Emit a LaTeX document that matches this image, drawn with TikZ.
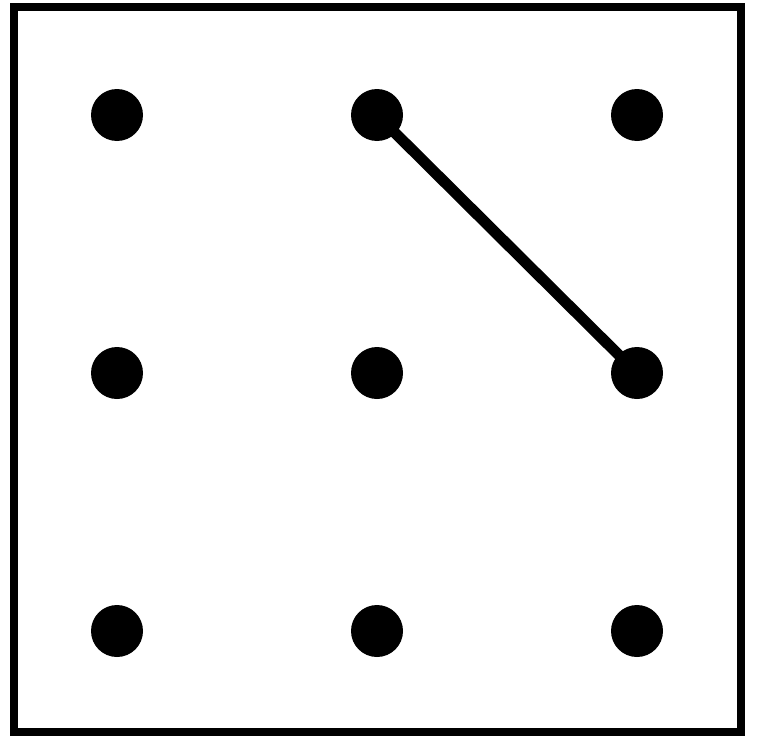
\documentclass[tikz,border=0pt]{standalone}
\usepackage{tikz}
\usetikzlibrary{backgrounds}

\tikzset{
    dot/.style={circle, fill=black, inner sep=0pt, minimum size=52pt},
    frame/.style={line width=8pt, draw=black}
}

\begin{document}
\begin{tikzpicture}[x=1pt, y=-1pt]
    \useasboundingbox (0, 0) rectangle (758, 736);
    \draw[frame] (14, 7) rectangle (741, 732);

    % grid of dots
    \foreach \r/\y in {1/115, 2/373, 3/631} {
        \foreach \c/\x in {1/117, 2/377, 3/637} {
            \node[dot] (d\r\c) at (\x, \y) {};
        }
    }

    \begin{scope}[on background layer]
        \draw[line width=11pt] (d12.center) -- (d23.center);
    \end{scope}
\end{tikzpicture}
\end{document}
